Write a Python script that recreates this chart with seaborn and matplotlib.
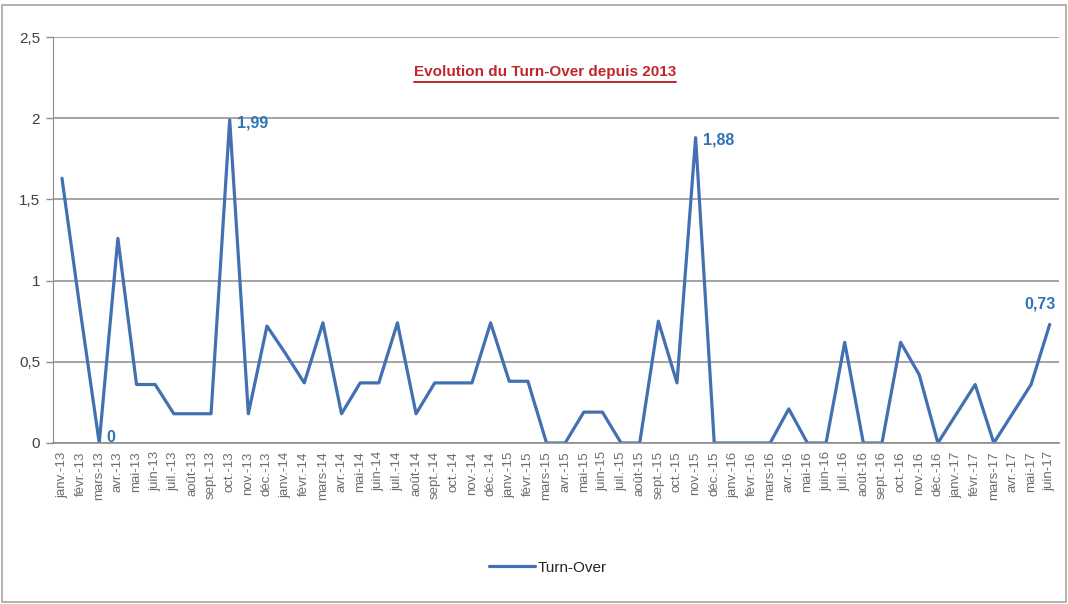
import numpy as np
import pandas as pd
import matplotlib
matplotlib.use("Agg")
import matplotlib.pyplot as plt
import seaborn as sns
from matplotlib.patches import Rectangle

months = ["janv.", "févr.", "mars", "avr.", "mai", "juin",
          "juil.", "août", "sept.", "oct.", "nov.", "déc."]
labels = [f"{m}-{y}" for y in ["13", "14", "15", "16"] for m in months]
labels += [f"{m}-17" for m in months[:6]]

turnover = [1.63, 0.80, 0.00, 1.26, 0.36, 0.36, 0.18, 0.18, 0.18, 1.99, 0.18, 0.72,
            0.55, 0.37, 0.74, 0.18, 0.37, 0.37, 0.74, 0.18, 0.37, 0.37, 0.37, 0.74,
            0.38, 0.38, 0.00, 0.00, 0.19, 0.19, 0.00, 0.00, 0.75, 0.37, 1.88, 0.00,
            0.00, 0.00, 0.00, 0.21, 0.00, 0.00, 0.62, 0.00, 0.00, 0.62, 0.42, 0.00,
            0.18, 0.36, 0.00, 0.18, 0.36, 0.73]

# points that get a data label: (index, text, dx, dy, ha, va)
annotated = [(2, "0", 5, 4, "left", "center"),
             (9, "1,99", 5, -2, "left", "center"),
             (34, "1,88", 5, -2, "left", "center"),
             (53, "0,73", -7, 9, "center", "bottom")]

df = pd.DataFrame({"idx": np.arange(len(labels)), "mois": labels, "Turn-Over": turnover})

sns.set_style("white")
plt.rcParams["font.family"] = ["Liberation Sans", "DejaVu Sans"]

fig = plt.figure(figsize=(10.68, 6.04), dpi=100)
fig.patches.append(Rectangle((0.002, 0.003), 0.996, 0.988, transform=fig.transFigure,
                             fill=False, edgecolor="#a6a6a6", linewidth=1.2))
ax = fig.add_axes([0.0493, 0.2666, 0.9423, 0.6721])

blue = "#4270b0"
sns.lineplot(data=df, x="idx", y="Turn-Over", ax=ax, color=blue, linewidth=2.3,
             label="Turn-Over", legend=False)

ax.set_xlim(-0.5, len(labels) - 0.5)
ax.set_ylim(0, 2.5)
ax.set_yticks([0, 0.5, 1, 1.5, 2, 2.5])
ax.set_yticklabels(["0", "0,5", "1", "1,5", "2", "2,5"], fontsize=11, color="#404040")
ax.yaxis.grid(True, color="#8c8c8c", linewidth=1.1)
ax.set_axisbelow(True)

ax.set_xticks(df["idx"])
ax.set_xticklabels(df["mois"], rotation=90, fontsize=9.5, color="#6b6b6b")
ax.set_xticks(np.arange(-0.5, len(labels), 1), minor=True)
ax.tick_params(axis="x", which="major", length=0, pad=6)
ax.tick_params(axis="x", which="minor", length=5, color="#8c8c8c", width=1)
ax.tick_params(axis="y", length=5, color="#8c8c8c", width=1, left=True, pad=4)
ax.set_xlabel("")
ax.set_ylabel("")

for side in ["top", "right"]:
    ax.spines[side].set_visible(False)
ax.spines["left"].set_color("#8c8c8c")
ax.spines["bottom"].set_color("#8c8c8c")
ax.spines["bottom"].set_linewidth(1.2)

for i, txt, dx, dy, ha, va in annotated:
    ax.annotate(txt, (df["idx"][i], df["Turn-Over"][i]), xytext=(dx, dy),
                textcoords="offset points", ha=ha, va=va, fontsize=11.5,
                fontweight="bold", color="#2e75b6")

title = ax.text(0.4895, 0.915, "Evolution du Turn-Over depuis 2013", transform=ax.transAxes,
                ha="center", va="center", fontsize=11, fontweight="bold", color="#c0272d")
fig.canvas.draw()
bb = title.get_window_extent(fig.canvas.get_renderer()).transformed(fig.transFigure.inverted())
fig.add_artist(plt.Line2D([bb.x0, bb.x1], [bb.y0 - 0.006, bb.y0 - 0.006],
                          transform=fig.transFigure, color="#c0272d", linewidth=1.4))

leg = fig.legend(handles=ax.get_lines()[:1], labels=["Turn-Over"], loc="center",
                 bbox_to_anchor=(0.513, 0.06), frameon=False, fontsize=11,
                 handlelength=3.0, handletextpad=0.2)

fig.savefig("out.png", dpi=100)
